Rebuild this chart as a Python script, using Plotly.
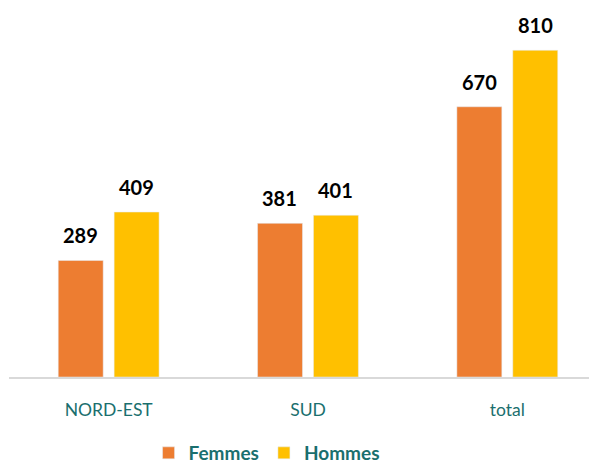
import plotly.graph_objects as go

categories = ["NORD-EST", "SUD", "total"]
femmes = [289, 381, 670]
hommes = [409, 401, 810]
series_names = ["Femmes", "Hommes"]

ORANGE = "#ED7D31"
YELLOW = "#FFC000"
TEAL = "#1A6F6E"
FONT = "Lato, 'Open Sans', sans-serif"

fig = go.Figure()
fig.add_trace(go.Bar(x=categories, y=femmes, name=series_names[0], marker_color=ORANGE))
fig.add_trace(go.Bar(x=categories, y=hommes, name=series_names[1], marker_color=YELLOW))

# value labels above bars
for vals, dx in ((femmes, -28), (hommes, 28)):
    for c, v in zip(categories, vals):
        fig.add_annotation(x=c, y=v, xref="x", yref="y", text=f"<b>{v}</b>",
                           showarrow=False, xshift=dx, yshift=11, yanchor="bottom",
                           font=dict(size=20, color="black", family=FONT))

fig.update_layout(
    width=589, height=464,
    margin=dict(l=1, r=0, t=6, b=95),
    paper_bgcolor="white", plot_bgcolor="white",
    barmode="group", bargap=0.439, bargroupgap=0.196,
    font=dict(family=FONT, color=TEAL),
    showlegend=True,
    legend=dict(orientation="h", x=0.438, xanchor="center", y=0.0, yref="container",
                yanchor="bottom", itemwidth=30,
                font=dict(size=19, color=TEAL, family=FONT, weight="bold"),
                traceorder="normal"),
)
fig.update_xaxes(range=[-0.5, 2.45], showline=True, linecolor="#D9D9D9", linewidth=1.5,
                 tickfont=dict(size=17.5, color=TEAL, family=FONT), ticks="", ticklabelstandoff=16,
                 showgrid=False)
fig.update_yaxes(range=[0, 900], visible=False, showgrid=False)

fig.write_html("out.html")
